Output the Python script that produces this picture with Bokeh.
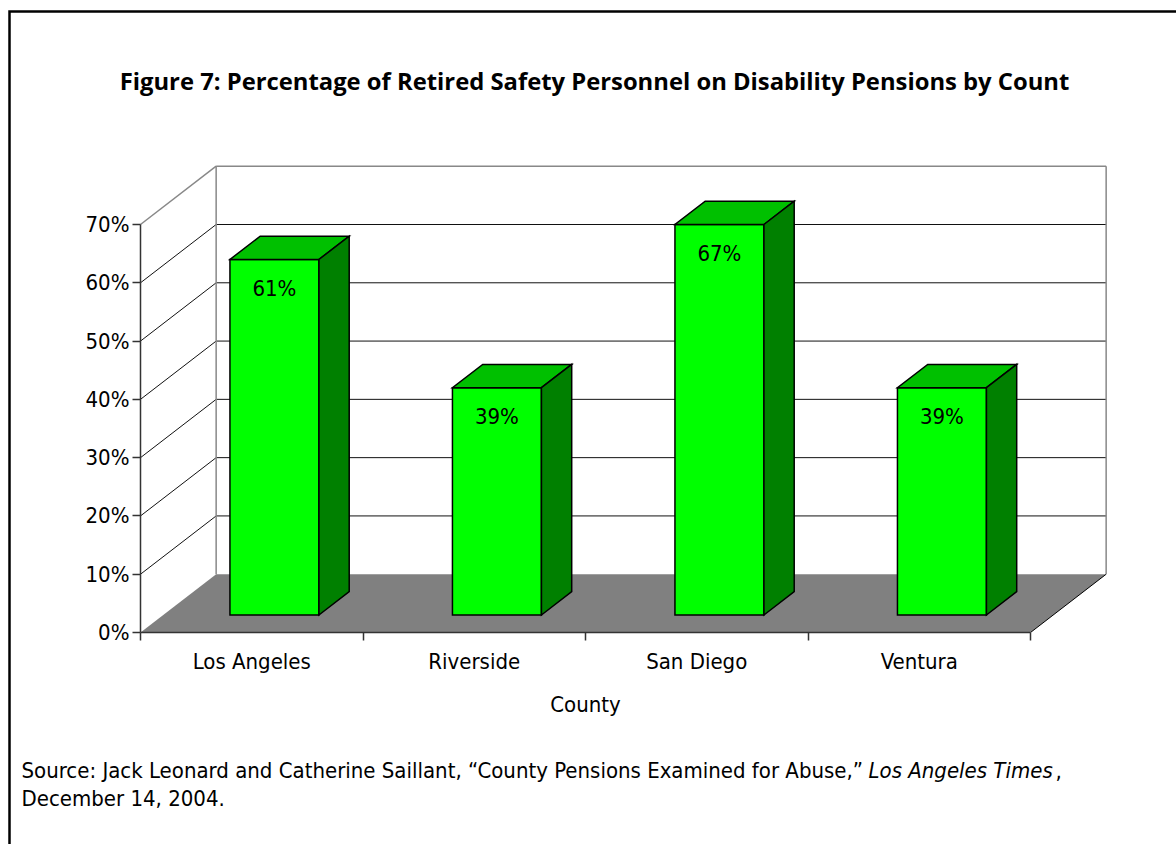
from bokeh.plotting import figure
from bokeh.models import (Range1d, LinearAxis, FixedTicker, PrintfTickFormatter,
                          ColumnDataSource, LabelSet, Label)
from bokeh.core.properties import value
from bokeh.embed import file_html
from bokeh.resources import INLINE

# ---- data ----
counties = ["Los Angeles", "Riverside", "San Diego", "Ventura"]
pct_disability = [61, 39, 67, 39]
y_ticks = [0, 10, 20, 30, 40, 50, 60, 70]

title_text = "Figure 7: Percentage of Retired Safety Personnel on Disability Pensions by Count"
source_text = "Source: Jack Leonard and Catherine Saillant, \u201cCounty Pensions Examined for Abuse,\u201d"
source_pub = "Los Angeles Times"
source_tail = ","
source_date = "December 14, 2004."

# ---- oblique 3-D projection settings ----
DX = 0.34          # horizontal shift of full depth, in category units
DY = 10.0          # vertical shift of full depth, in percent units
BAR_W = 0.4        # bar width as a share of a category
D_FRONT, D_BACK = 0.3, 0.7   # depth span of the bars
Y_MAX = y_ticks[-1]

TITLE_FONT = "Open Sans"
TEXT_FONT = "DejaVu Sans Condensed"

# ---- canvas geometry: the plotting frame fills the whole canvas ----
CW, CH = 1176, 844
ORIGIN_X, ORIGIN_Y = 140, 632      # canvas pixel of (category 0, 0 %)
PX_CAT = 222.5                     # pixels per category
PX_PCT = 408 / 70                  # pixels per percentage point


def to_x(px):
    return (px - ORIGIN_X) / PX_CAT


def to_y(py):
    return (ORIGIN_Y - py) / PX_PCT


n = len(counties)
p = figure(width=CW, height=CH, output_backend="svg", toolbar_location=None,
           title=None, x_axis_type=None, y_axis_type=None,
           x_range=Range1d(to_x(0), to_x(CW)), y_range=Range1d(to_y(CH), to_y(0)),
           min_border=0)
p.outline_line_color = None
p.background_fill_color = "white"
p.border_fill_color = "white"

# box around the whole figure (its right and bottom sides run past the page)
bx, by = to_x(9), to_y(11)
p.line([bx, bx, to_x(CW + 20)], [to_y(CH + 20), by, by],
       line_color="black", line_width=2.5, line_join="miter")

# floor
p.patch([0, n, n + DX, DX], [0, 0, DY, DY], fill_color="#808080", line_color=None)
p.line([n, n + DX], [0, DY], line_color="#000000", line_width=1)

# back wall gridlines and side-wall diagonals
inner = y_ticks[1:-1]
p.multi_line([[DX, n + DX] for _ in inner], [[v + DY, v + DY] for v in inner],
             line_color="#111111", line_width=1)
p.multi_line([[0, DX] for _ in inner], [[v, v + DY] for v in inner],
             line_color="#111111", line_width=1)
# wall outline (top edges and back corners)
p.multi_line([[DX, n + DX], [0, DX], [DX, DX], [n + DX, n + DX]],
             [[Y_MAX + DY, Y_MAX + DY], [Y_MAX, Y_MAX + DY], [DY, Y_MAX + DY], [DY, Y_MAX + DY]],
             line_color="#888888", line_width=1.5)

# bars
ddx = (D_BACK - D_FRONT) * DX
ddy = (D_BACK - D_FRONT) * DY
cx = [i + 0.5 for i in range(n)]
left = [c - BAR_W / 2 + D_FRONT * DX for c in cx]
right = [c + BAR_W / 2 + D_FRONT * DX for c in cx]
bottom = D_FRONT * DY
top = [v + D_FRONT * DY for v in pct_disability]

src = ColumnDataSource(dict(
    left=left, right=right, top=top,
    top_xs=[[l, r, r + ddx, l + ddx] for l, r in zip(left, right)],
    top_ys=[[t, t, t + ddy, t + ddy] for t in top],
    side_xs=[[r, r + ddx, r + ddx, r] for r in right],
    side_ys=[[bottom, bottom + ddy, t + ddy, t] for t in top],
    mid=[(l + r) / 2 for l, r in zip(left, right)],
    label=[f"{v}%" for v in pct_disability],
))
p.quad(left="left", right="right", bottom=bottom, top="top", source=src,
       fill_color="#00FF00", line_color="black", line_width=1.5, line_join="miter")
p.patches("top_xs", "top_ys", source=src, fill_color="#00C000",
          line_color="black", line_width=1.5, line_join="miter")
p.patches("side_xs", "side_ys", source=src, fill_color="#008000",
          line_color="black", line_width=1.5, line_join="miter")

p.add_layout(LabelSet(x="mid", y="top", text="label", source=src,
                      y_offset=-29, text_align="center", text_baseline="middle",
                      text_font=value(TEXT_FONT), text_font_size="22px",
                      text_color="black"))

# axes, pinned to the front plane of the chart
yaxis = LinearAxis(fixed_location=0,
                   ticker=FixedTicker(ticks=y_ticks),
                   formatter=PrintfTickFormatter(format="%d%%"),
                   bounds=(0, Y_MAX),
                   major_tick_out=8, major_tick_in=0,
                   minor_tick_out=0, minor_tick_in=0,
                   axis_line_color="#333333", axis_line_width=1.5,
                   major_tick_line_color="#333333", major_tick_line_width=1.5,
                   major_label_standoff=3,
                   major_label_text_font=TEXT_FONT,
                   major_label_text_font_size="22px",
                   major_label_text_color="black")
p.add_layout(yaxis, "left")

xaxis = LinearAxis(fixed_location=0,
                   ticker=FixedTicker(ticks=cx, minor_ticks=list(range(n + 1))),
                   major_label_overrides={c: name for c, name in zip(cx, counties)},
                   bounds=(0, n),
                   major_tick_out=0, major_tick_in=0,
                   minor_tick_out=8, minor_tick_in=0,
                   axis_line_color="#333333", axis_line_width=1.5,
                   minor_tick_line_color="#333333", minor_tick_line_width=1.5,
                   major_label_standoff=8,
                   major_label_text_font=TEXT_FONT,
                   major_label_text_font_size="22px",
                   major_label_text_color="black",
                   axis_label="County",
                   axis_label_standoff=15,
                   axis_label_text_font=TEXT_FONT,
                   axis_label_text_font_size="22px",
                   axis_label_text_font_style="normal",
                   axis_label_text_color="black")
p.add_layout(xaxis, "below")


def put(page_x, page_y, text, font, size, style="normal", align="left"):
    # page_y is the vertical middle of the text line, in canvas pixels from the top;
    # screen units run from the frame's lower-left corner, which is the canvas corner
    p.add_layout(Label(x=page_x, y=CH - page_y, x_units="screen", y_units="screen",
                       text=text, text_align=align, text_baseline="middle",
                       text_font=font, text_font_style=style, text_font_size=size,
                       text_color="black"))


put(594, 80, title_text, TITLE_FONT, "23.8px", style="bold", align="center")
put(21, 770, source_text, TEXT_FONT, "22px")
put(868, 770, source_pub, TEXT_FONT, "22px", style="italic")
put(1055, 770, source_tail, TEXT_FONT, "22px")
put(21, 798, source_date, TEXT_FONT, "22px")

html = file_html(p, INLINE)
# the page itself should never scroll
html = html.replace("<head>", "<head><style>html, body { margin: 0; overflow: hidden; }</style>", 1)
open("out.html", "w").write(html)
